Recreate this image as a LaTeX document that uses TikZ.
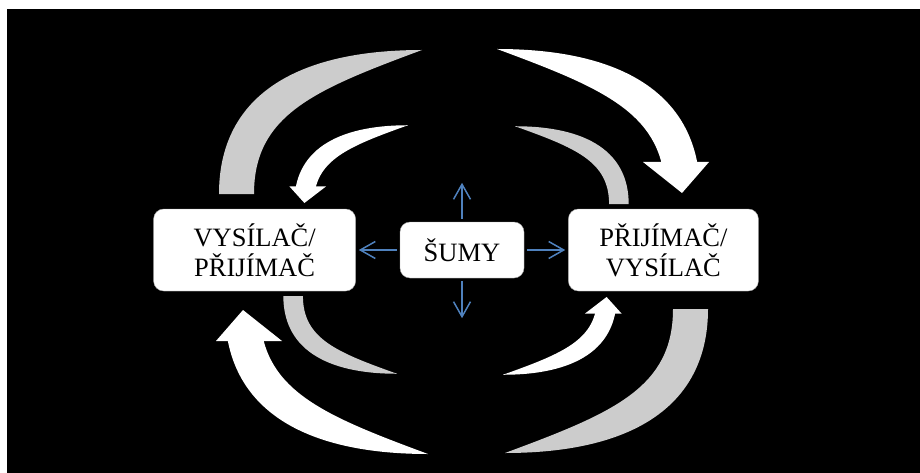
\documentclass[tikz,border=0pt]{standalone}
\usepackage{fontspec}
\setmainfont{Liberation Serif}
\usetikzlibrary{positioning,arrows.meta}
\definecolor{bandgrey}{HTML}{CCCCCC}
\definecolor{noiseblue}{HTML}{4F81BD}

\begin{document}
\begin{tikzpicture}[x=1pt, y=-1pt, node distance={44pt},
    box/.style = {draw=black!35, fill=white, rounded corners=10pt, align=center, minimum height=82pt, inner sep=0pt, font=\fontsize{26.5}{30}\selectfont},
    noise/.style = {-{Straight Barb[length=15pt, width=17pt]}, draw=noiseblue, line width=1.5pt, shorten <=3pt},
    band/.pic = {
        \fill[bandgrey] (-203,0) .. controls (-203,-94) and (-132,-144) .. (0,-144)
            .. controls (-108,-104) and (-168,-79) .. (-168,0) -- cycle;
    },
    bandarrow/.pic = {
        \begin{scope}
            \clip (-260,-30) rectangle (20,-160);
            \fill[white] (-203,0) .. controls (-203,-94) and (-132,-144) .. (0,-144)
                .. controls (-108,-104) and (-168,-79) .. (-168,0) -- cycle;
        \end{scope}
        \fill[white] (-212,-31) -- (-146,-31) -- (-185,0) -- cycle;
    }]
    \useasboundingbox (0,0) rectangle (920,473);
    \fill[white] (0,0) rectangle (920,473);
    \fill[black] (7,9) rectangle (920,473);

    \node[box, minimum width=124pt, minimum height=56pt] (2) at (462,250) {ŠUMY};
    \node[box, minimum width=202pt] (1) [left=of 2]     {VYSÍLAČ/\\PŘIJÍMAČ};
    \node[box, minimum width=190pt] (3) [right=of 2]    {PŘIJÍMAČ/\\VYSÍLAČ};
    \coordinate[above=39pt of 2.north] (4);
    \coordinate[below=40pt of 2.south] (5);

    \draw[noise, shorten >=3pt] (2) -- (1);
    \draw[noise, shorten >=3pt] (2) -- (3);
    \draw[noise] (2) -- (4);
    \draw[noise] (2) -- (5);

    % outer ring
    \pic at (422,194) {band};
    \pic[xscale=-1] at (497,193) {bandarrow};
    \pic[yscale=-1] at (428,310) {bandarrow};
    \pic[xscale=-1, yscale=-1] at (505,309) {band};
    % inner ring
    \pic[xscale=0.56, yscale=0.54] at (408,203) {bandarrow};
    \pic[xscale=-0.56, yscale=0.54] at (515,204) {band};
    \pic[xscale=0.56, yscale=-0.54] at (397,296) {band};
    \pic[xscale=-0.56, yscale=-0.54] at (503,297) {bandarrow};
\end{tikzpicture}
\end{document}
